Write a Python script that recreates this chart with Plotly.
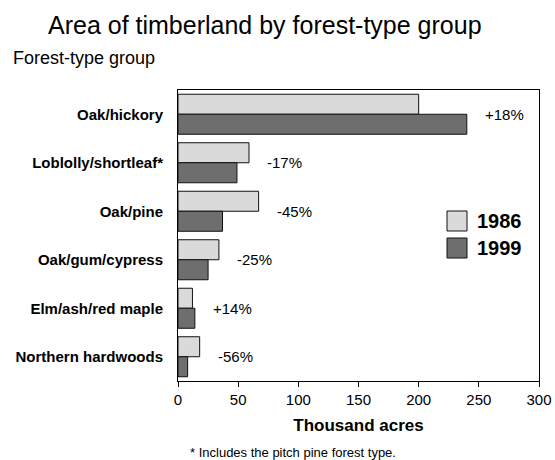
import plotly.graph_objects as go

categories = ["Oak/hickory", "Loblolly/shortleaf*", "Oak/pine", "Oak/gum/cypress",
              "Elm/ash/red maple", "Northern hardwoods"]
acres_1986 = [200, 59, 67, 34, 12, 18]
acres_1999 = [240, 49, 37, 25, 14, 8]
change_labels = ["+18%", "-17%", "-45%", "-25%", "+14%", "-56%"]
x_ticks = [0, 50, 100, 150, 200, 250, 300]

FONT = "Liberation Sans, Arial, sans-serif"
LIGHT = "#dadada"
DARK = "#6e6e6e"

W, H = 555, 460
L, R, T, B = 178, 16, 90, 79
PW, PH = W - L - R, H - T - B


def px(x):
    return (x - L) / PW


def py(y):
    return (H - B - y) / PH


fig = go.Figure()
fig.add_trace(go.Bar(y=categories, x=acres_1986, orientation="h", name="1986",
                     marker=dict(color=LIGHT, line=dict(color="#111111", width=1))))
fig.add_trace(go.Bar(y=categories, x=acres_1999, orientation="h", name="1999",
                     marker=dict(color=DARK, line=dict(color="#111111", width=1))))

annotations = []
for cat, a, b, lab in zip(categories, acres_1986, acres_1999, change_labels):
    annotations.append(dict(x=max(a, b), y=cat, xref="x", yref="y", text=lab,
                            showarrow=False, xanchor="left", yanchor="middle",
                            xshift=16, font=dict(family=FONT, size=15, color="#000")))

# title and subtitle
annotations.append(dict(x=px(265), y=py(25), xref="paper", yref="paper",
                        text="Area of timberland by forest-type group", showarrow=False,
                        xanchor="center", yanchor="middle",
                        font=dict(family=FONT, size=25, color="#000")))
annotations.append(dict(x=px(11), y=py(58), xref="paper", yref="paper",
                        text="Forest-type group", showarrow=False,
                        xanchor="left", yanchor="middle",
                        font=dict(family=FONT, size=18, color="#000")))
# footnote
annotations.append(dict(x=px(293), y=py(452), xref="paper", yref="paper",
                        text="* Includes the pitch pine forest type.", showarrow=False,
                        xanchor="center", yanchor="middle",
                        font=dict(family=FONT, size=13, color="#000")))
# legend
shapes = []
for (y0, y1, col, lab) in [(211, 231, LIGHT, "1986"), (238, 258, DARK, "1999")]:
    shapes.append(dict(type="rect", xref="paper", yref="paper",
                       x0=px(447), x1=px(467), y0=py(y1), y1=py(y0),
                       fillcolor=col, line=dict(color="#111111", width=1)))
    annotations.append(dict(x=px(475), y=py((y0 + y1) / 2), xref="paper", yref="paper",
                            text="<b>%s</b>" % lab, showarrow=False,
                            xanchor="left", yanchor="middle",
                            font=dict(family=FONT, size=20, color="#000")))

fig.update_layout(
    width=W, height=H,
    margin=dict(l=L, r=R, t=T, b=B, pad=0, autoexpand=False),
    paper_bgcolor="white", plot_bgcolor="white",
    barmode="group", bargap=0.175, bargroupgap=0,
    showlegend=False,
    annotations=annotations, shapes=shapes,
    font=dict(family=FONT, color="#000"),
    xaxis=dict(range=[0, 300], tickvals=x_ticks, ticks="outside", ticklen=5,
               tickcolor="#000", showline=True, linecolor="#000", linewidth=1,
               mirror=True, showgrid=False, zeroline=False, automargin=False,
               tickfont=dict(family=FONT, size=15, color="#000"),
               title=dict(text="<b>Thousand acres</b>", standoff=12,
                          font=dict(family=FONT, size=17, color="#000"))),
    yaxis=dict(categoryorder="array", categoryarray=categories, autorange="reversed",
               showline=True, linecolor="#000", linewidth=1, mirror=True,
               showgrid=False, ticks="", ticklabelstandoff=11, automargin=False,
               tickprefix="<b>", ticksuffix="</b>",
               tickfont=dict(family=FONT, size=15, color="#000")),
)

fig.write_html("out.html", config={"displayModeBar": False},
               post_script="document.body.style.margin='0px';document.body.style.overflow='hidden';")
